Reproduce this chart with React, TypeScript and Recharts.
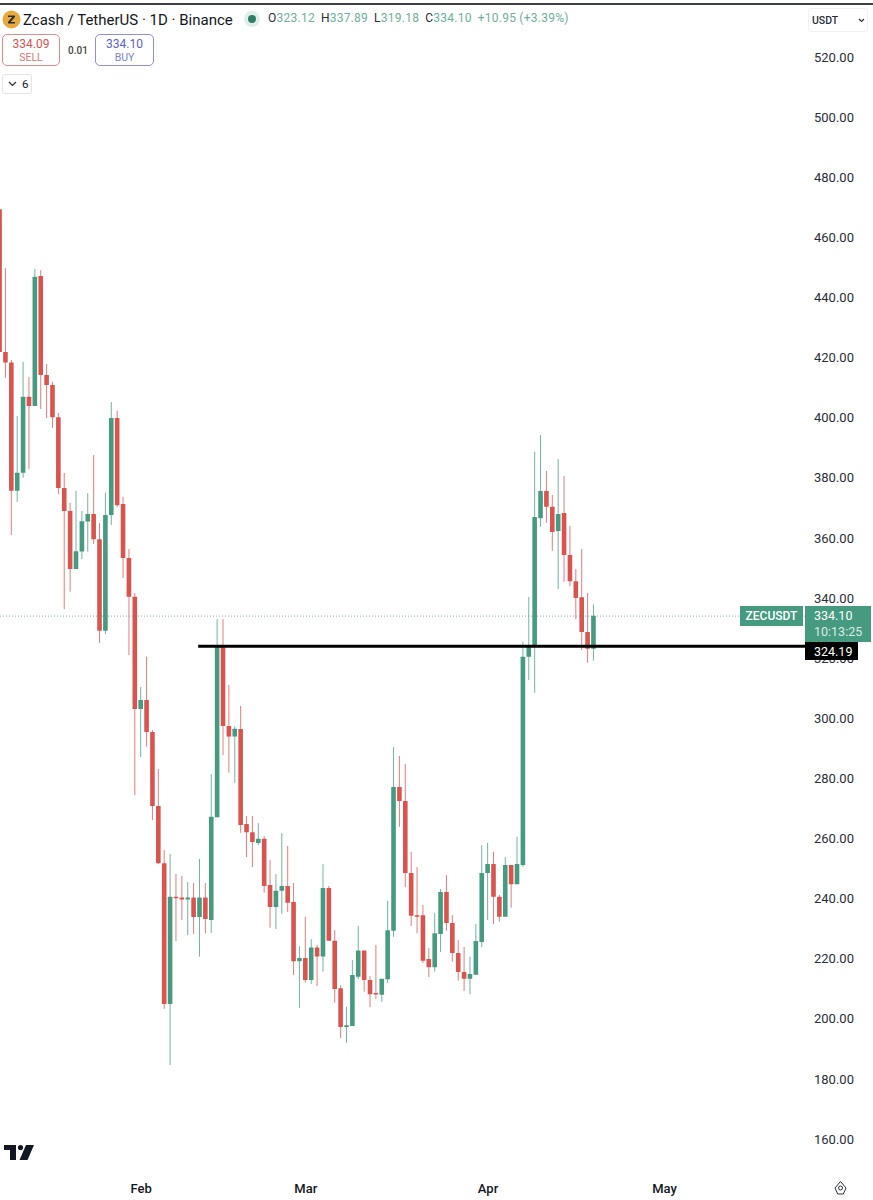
import React from 'react';
import { Bar, ComposedChart, ReferenceLine, XAxis, YAxis } from 'recharts';

const opens = [
  469.4, 421.9, 418.4, 375.7, 381.7, 407, 403.9, 447.2, 414.2, 410.9, 400.2, 376.6, 369, 349.7, 355.5, 365.5, 368,
  359.6, 329.1, 367.6, 399.9, 371.3, 353.3, 340.4, 303.1, 306.1, 295.4, 270.8, 251.8, 204.9, 240.6, 240.4, 239.7,
  240.4, 233.9, 240.4, 232.9, 267.1, 324.4, 297.4, 293.9, 296.4, 264.8, 262.1, 258.5, 259.9, 244.5, 237.2, 242.6,
  244.2, 238.9, 219.2, 220.2, 212.9, 223.7, 220.7, 243.5, 226, 210.2, 197.3, 197.6, 214, 222.7, 212.9, 208.6, 208,
  213.2, 229.3, 277.1, 272.5, 248.5, 234.5, 234.5, 219.9, 217.2, 228.2, 242.2, 231.9, 221.9, 215.6, 213.3, 214.7,
  225.6, 248.5, 251.5, 240.6, 234, 251.2, 244.8, 251.2, 320.5, 323.8, 366.6, 375.6, 370.4, 362.3, 368.3, 354.3,
  345.6, 340.3, 328.7, 323.12,
];
const highs = [
  469.4, 449.8, 419.2, 400.6, 418.6, 413.5, 449.5, 449.1, 417.9, 412, 401.6, 381.6, 371.7, 375.7, 369, 374.9, 387.6,
  365, 375.1, 405.2, 402.3, 373.7, 356.3, 341.7, 310.4, 320.5, 296.1, 283.1, 256.2, 254.8, 248.2, 247.6, 245.5,
  245.2, 253.2, 245.2, 281.4, 333, 333, 311.1, 297.4, 304.1, 267.5, 267.5, 265.1, 260.8, 252.8, 248.2, 261.8, 257.5,
  245.2, 224.2, 234, 226.5, 224.6, 251.5, 244.2, 229.5, 211.2, 204, 219.6, 230.9, 222.7, 214.2, 224.6, 213.3, 239.3,
  290.4, 287.5, 284.8, 255.6, 250.5, 237.9, 223.6, 235.2, 243.2, 247.8, 234.5, 226.2, 223.9, 220.7, 231.5, 257.8,
  258.5, 255.6, 241.2, 253.8, 251.2, 260.6, 325.5, 340.3, 388.7, 394.2, 382.3, 374.3, 386.2, 380.6, 364, 349.7,
  356.3, 341.7, 337.89,
];
const lows = [
  421.9, 413.3, 361, 372, 380, 382.9, 403.9, 402.9, 399.9, 396.6, 374.6, 336.3, 342.1, 349.7, 353, 355.4, 358, 325.1,
  328, 364.3, 370.3, 346.7, 321, 274.5, 287.1, 290.5, 266.1, 251.5, 203.3, 184.6, 225.9, 232.9, 227.9, 228.2, 220.7,
  228.5, 228.6, 267.1, 287.8, 281.9, 278.5, 261.9, 253.8, 250.5, 257.8, 242, 230.3, 229.9, 234.9, 235.6, 214.6,
  203.7, 212, 211.6, 210.9, 215.7, 225.9, 205.4, 193.6, 192, 197.6, 213.2, 209, 203.9, 206.6, 205.7, 211.9, 227.3,
  263.9, 243.9, 230.9, 228.5, 218.6, 213.9, 215.7, 222.2, 229.3, 219, 212.7, 209.3, 208.2, 214.7, 223.9, 232.9,
  231.5, 232.3, 234, 237, 244.8, 250.6, 312.7, 308.5, 363.7, 365, 355.7, 343, 345.4, 344, 333, 322.7, 318.5, 319.18,
];
const closes = [
  421.9, 418.4, 375.7, 381.7, 407, 403.9, 446.9, 414.2, 410.9, 400.2, 376.6, 369, 349.7, 355.6, 365.6, 368, 359.6,
  329.1, 367.6, 399.9, 370.9, 353.3, 340.4, 303.1, 306.1, 295.4, 270.8, 251.8, 204.9, 240.6, 240.4, 239.7, 240.4,
  233.9, 240.4, 233.2, 267.2, 324.4, 297.4, 293.9, 296.5, 264.5, 262.1, 258.8, 259.9, 244.2, 237.2, 242.6, 244.2,
  238.6, 219.2, 220.2, 212.9, 223.7, 220.7, 243.5, 226, 209.9, 197.3, 197.9, 214.6, 222.7, 212.9, 208.2, 208.2,
  213.3, 229.5, 277.1, 272.5, 248.5, 234.3, 234.3, 219.3, 217.2, 228.5, 242.2, 231.9, 221.9, 215.6, 213.3, 214.9,
  225.9, 248.5, 251.5, 240.6, 234, 251.2, 244.8, 251.5, 320.5, 323.8, 367, 375.6, 370.4, 362, 368, 354.3, 345.6, 340,
  328.7, 323.12, 334.1,
];

const priceTicks = [160, 180, 200, 220, 240, 260, 280, 300, 320, 340, 360, 380, 400, 420, 440, 460, 480, 500, 520];
const monthDays = [24, 52, 83, 113];
const monthLabels = ['Feb', 'Mar', 'Apr', 'May'];

const lastPrice = 334.0;
const markedLevel = 323.95;

const RED = '#d9534f';
const GREEN = '#459a80';
const FONT = 'Roboto, "Noto Sans", sans-serif';

const candles = opens.map((open, i) => ({
  day: i,
  open,
  high: highs[i],
  low: lows[i],
  close: closes[i],
}));

const Candle = (props: any) => {
  const { x, y, width, height, payload } = props;
  const { open, high, low, close } = payload;
  const color = close >= open ? GREEN : RED;
  const perUnit = height / (high - low);
  const top = y + (high - Math.max(open, close)) * perUnit;
  const bottom = y + (high - Math.min(open, close)) * perUnit;
  const mid = x + width / 2;
  return (
    <g>
      <line x1={mid} x2={mid} y1={y} y2={y + height} stroke={color} strokeOpacity={0.75} strokeWidth={1} />
      <rect x={mid - 2.3} y={top} width={4.6} height={Math.max(bottom - top, 1.5)} fill={color} rx={0.5} />
    </g>
  );
};

const box = (style: React.CSSProperties): React.CSSProperties => ({ position: 'absolute', ...style });

const App = () => {
  return (
    <div
      style={{
        position: 'absolute',
        left: 0,
        top: 0,
        width: 873,
        height: 1200,
        overflow: 'hidden',
        background: '#fff',
        fontFamily: FONT,
        color: '#131722',
      }}
    >
      <ComposedChart
        width={873}
        height={1200}
        data={candles}
        margin={{ top: 0, right: 0, bottom: 0, left: 0 }}
      >
        <XAxis
          dataKey="day"
          type="number"
          domain={[0, 136.9]}
          allowDataOverflow
          ticks={monthDays}
          tickFormatter={(v: number) => monthLabels[monthDays.indexOf(v)]}
          height={30}
          axisLine={false}
          tickLine={false}
          interval={0}
          tick={{ fontSize: 13, fill: '#131722', fontFamily: FONT, fontWeight: 500 }}
          tickMargin={8}
        />
        <YAxis
          orientation="right"
          type="number"
          domain={[149.7, 539]}
          allowDataOverflow
          ticks={priceTicks}
          interval={0}
          width={68}
          axisLine={false}
          tickLine={false}
          tickFormatter={(v: number) => v.toFixed(2)}
          tick={{ fontSize: 13, fill: '#2a2e39', fontFamily: FONT }}
          tickMargin={3}
        />
        <ReferenceLine y={lastPrice} stroke={GREEN} strokeOpacity={0.7} strokeDasharray="1 2" />
        <Bar
          dataKey={(d: any) => [d.low, d.high]}
          barSize={5}
          shape={Candle}
          isAnimationActive={false}
        />
        <ReferenceLine
          segment={[
            { x: 33.7, y: markedLevel },
            { x: 136.9, y: markedLevel },
          ]}
          stroke="#000"
          strokeWidth={3}
        />
      </ComposedChart>

      <div style={box({ left: 0, top: 3, width: 873, height: 2, background: '#3c3f44' })} />

      {/* header */}
      <svg style={box({ left: 2, top: 10 })} width={19} height={19} viewBox="0 0 19 19">
        <circle cx={9.5} cy={9.5} r={9} fill="#e8a93c" />
        <path d="M6 5.5h7v1.6l-4.3 4.8H13v1.6H6v-1.6l4.3-4.8H6z" fill="#2a2e39" />
      </svg>
      <div style={box({ left: 23, top: 11, fontSize: 15, lineHeight: '18px', whiteSpace: 'nowrap' })}>
        Zcash / TetherUS · 1D · Binance
      </div>
      <div style={box({ left: 244, top: 11, width: 16, height: 16, borderRadius: 8, background: '#dfeee9' })} />
      <div style={box({ left: 248, top: 15, width: 8, height: 8, borderRadius: 4, background: '#2f7d66' })} />
      <div
        style={box({
          left: 268,
          top: 10,
          fontSize: 12,
          lineHeight: '17px',
          letterSpacing: 0.25,
          whiteSpace: 'nowrap',
          color: '#6fb09c',
        })}
      >
        <span style={{ color: '#2a2e39' }}>O</span>323.12
        <span style={{ color: '#2a2e39', marginLeft: 6 }}>H</span>337.89
        <span style={{ color: '#2a2e39', marginLeft: 6 }}>L</span>319.18
        <span style={{ color: '#2a2e39', marginLeft: 6 }}>C</span>334.10
        <span style={{ marginLeft: 6 }}>+10.95 (+3.39%)</span>
      </div>

      <div
        style={box({
          left: 2,
          top: 34,
          width: 58,
          height: 32,
          border: '1px solid #e28b8b',
          borderRadius: 5,
          textAlign: 'center',
          color: '#d9534f',
          fontSize: 12,
          lineHeight: '14px',
          paddingTop: 2,
          boxSizing: 'border-box',
        })}
      >
        <div style={{ height: 14 }}>334.09</div>
        <div style={{ fontSize: 10.5, opacity: 0.8 }}>SELL</div>
      </div>
      <div style={box({ left: 68, top: 44, fontSize: 10, lineHeight: '13px', fontWeight: 500, color: '#444' })}>0.01</div>
      <div
        style={box({
          left: 95,
          top: 34,
          width: 59,
          height: 32,
          border: '1px solid #8f8fe0',
          borderRadius: 5,
          textAlign: 'center',
          color: '#5a5fcf',
          fontSize: 12,
          lineHeight: '14px',
          paddingTop: 2,
          boxSizing: 'border-box',
        })}
      >
        <div style={{ height: 14 }}>334.10</div>
        <div style={{ fontSize: 10.5, opacity: 0.8 }}>BUY</div>
      </div>
      <div
        style={box({
          left: 2,
          top: 74,
          width: 28,
          height: 18,
          border: '1px solid #e6e6e6',
          borderRadius: 3,
          fontSize: 11.5,
          lineHeight: '18px',
        })}
      >
        <svg style={box({ left: 5, top: 6 })} width={9} height={6} viewBox="0 0 9 6">
          <path d="M1 1l3.5 3.5L8 1" fill="none" stroke="#2a2e39" strokeWidth={1.2} />
        </svg>
        <span style={box({ left: 19, top: 0 })}>6</span>
      </div>

      <div
        style={box({
          left: 808,
          top: 8,
          width: 60,
          height: 24,
          border: '1px solid #f1f1f1',
          borderRadius: 3,
          fontSize: 10.5,
          lineHeight: '24px',
          fontWeight: 500,
          color: '#2a2e39',
          boxSizing: 'border-box',
          paddingLeft: 3,
        })}
      >
        USDT
        <svg style={box({ left: 49, top: 9 })} width={7} height={5} viewBox="0 0 7 5">
          <path d="M1 1l2.5 2.5L6 1" fill="none" stroke="#2a2e39" strokeWidth={1.1} />
        </svg>
      </div>

      {/* price tags */}
      <div
        style={box({
          left: 740,
          top: 606,
          width: 63,
          height: 20,
          background: GREEN,
          color: '#fff',
          fontSize: 12,
          fontWeight: 500,
          lineHeight: '20px',
          textAlign: 'center',
        })}
      >
        ZECUSDT
      </div>
      <div
        style={box({
          left: 805,
          top: 606,
          width: 66,
          height: 36,
          background: GREEN,
          color: '#fff',
          fontSize: 12.5,
          lineHeight: '16px',
          paddingTop: 2,
          paddingLeft: 9,
          boxSizing: 'border-box',
        })}
      >
        <div>334.10</div>
        <div style={{ opacity: 0.8 }}>10:13:25</div>
      </div>
      <div
        style={box({
          left: 805,
          top: 642,
          width: 53,
          height: 18,
          background: '#000',
          color: '#fff',
          fontSize: 12.5,
          lineHeight: '19px',
          paddingLeft: 9,
          boxSizing: 'border-box',
        })}
      >
        324.19
      </div>

      {/* TradingView mark */}
      <svg style={box({ left: 4, top: 1145 })} width={30} height={15} viewBox="0 0 30 15">
        <path d="M0 0h12v15H6V5H0z" fill="#131722" />
        <circle cx={16.5} cy={2.6} r={2.6} fill="#131722" />
        <path d="M22 0h8l-6.5 15h-8z" fill="#131722" />
      </svg>

      {/* settings */}
      <svg style={box({ left: 833, top: 1180 })} width={15} height={16} viewBox="0 0 15 16">
        <path d="M7.5 1.5L13 8l-2.7 6H4.7L2 8z" fill="none" stroke="#2a2e39" strokeWidth={1} />
        <circle cx={7.5} cy={8} r={2} fill="none" stroke="#2a2e39" strokeWidth={1} />
      </svg>
    </div>
  );
};

export default App;
